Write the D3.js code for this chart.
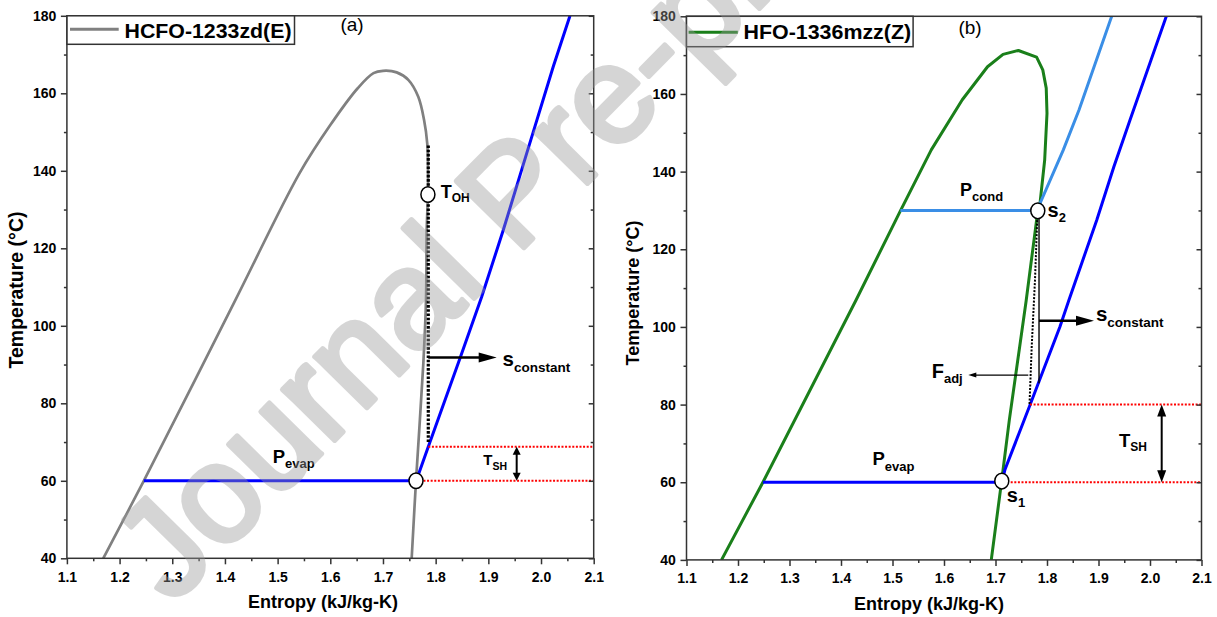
<!DOCTYPE html>
<html>
<head>
<meta charset="utf-8">
<script src="https://cdn.jsdelivr.net/npm/d3@7"></script>
<style>
  html, body { margin: 0; padding: 0; background: #fff; }
  svg { display: block; font-family: "Liberation Sans", Arial, Helvetica, sans-serif; }
</style>
</head>
<body>
<svg id="chart" width="1217" height="617"></svg>
<script>
// ---------- axis ticks ----------
const entropyTicks = [1.1, 1.2, 1.3, 1.4, 1.5, 1.6, 1.7, 1.8, 1.9, 2.0, 2.1];
const entropyMinor = [1.15, 1.25, 1.35, 1.45, 1.55, 1.65, 1.75, 1.85, 1.95, 2.05];
const tempTicks = [40, 60, 80, 100, 120, 140, 160, 180];
const tempMinor = [50, 70, 90, 110, 130, 150, 170];

// ---------- (a) HCFO-1233zd(E): [entropy kJ/kg-K, temperature °C] ----------
const hcfoLiquid = [[1.169, 40], [1.246, 60], [1.420, 106.7], [1.5417, 139.4],
  [1.600, 151.8], [1.652, 161.3], [1.682, 165.2], [1.700, 165.8]];
const hcfoVapour = [[1.700, 165.8], [1.726, 165.4], [1.7485, 163.4], [1.767, 159.1], [1.778, 153.1],
  [1.784, 147.1], [1.7855, 140], [1.7853, 133.9], [1.783, 124.7], [1.7817, 106.7], [1.7766, 90.3],
  [1.7627, 60], [1.7545, 40]];
const hcfoEvapIsobar = [[1.246, 60], [1.7627, 60], [1.767, 61.5], [1.786, 68.8], [1.8462, 91.6],
  [1.8874, 107.5], [1.9284, 124.7], [1.9728, 144.5], [2.0233, 166.9], [2.055, 180]];
const hcfoIsentrope = [[1.786, 70], [1.786, 147]];
const hcfoSuperheatLines = [[[1.786, 68.8], [2.1, 68.8]], [[1.770, 60], [2.1, 60]]];
const hcfoStates = [[1.7627, 60], [1.7853, 133.9]];
const hcfoSconstArrow = [[1.786, 91.8], [1.9159, 91.8]];
const hcfoTshArrow = [[1.9538, 60], [1.9538, 68.8]];

// ---------- (b) HFO-1336mzz(Z) ----------
const hfoLiquid = [[1.168, 40], [1.2484, 60], [1.4288, 106.8], [1.5153, 129.9], [1.5753, 145.6],
  [1.6355, 158.5], [1.6845, 167.0], [1.7146, 170.2], [1.7445, 171.2]];
const hfoVapour = [[1.7445, 171.2], [1.7798, 169.5], [1.7918, 166.2], [1.7985, 161.5], [1.800, 155],
  [1.7955, 143], [1.7864, 131.8], [1.7821, 129.9], [1.7596, 106.8], [1.7268, 76], [1.7122, 60.6],
  [1.6918, 40]];
const hfoCondIsobar = [[1.5153, 130], [1.7821, 130], [1.7864, 131.8], [1.8317, 145.6], [1.8625, 156],
  [1.9256, 180]];
const hfoEvapIsobar = [[1.2484, 60], [1.7122, 60], [1.7183, 63.2], [1.767, 79.9], [1.8253, 100.1],
  [1.8423, 106.8], [1.8965, 127.5], [1.930, 141.3], [1.9612, 153.3], [2.0317, 180]];
const hfoIsentrope = [[1.7845, 128.4], [1.7845, 85.5]];
const hfoAdjusted = [[1.7812, 128.4], [1.7767, 112.1], [1.7703, 94.9], [1.766, 80]];
const hfoSuperheatLines = [[[1.767, 80], [2.1, 80]], [[1.7295, 60], [2.1, 60]]];
const hfoStates = [[1.7122, 60.3], [1.7821, 129.9]];
const hfoSconstArrow = [[1.7845, 101.6], [1.8913, 101.6]];
const hfoFadjArrow = [[1.7637, 87.6], [1.6472, 87.6]];
const hfoTshArrow = [[2.0227, 60], [2.0227, 80]];

// ---------- colours ----------
const C = {
  gray: "#808080", green: "#1a7f1a", blue: "#0000ff", lightBlue: "#3a8ee6",
  red: "#ff0000", axis: "#333333", black: "#000000"
};

const svg = d3.select("#chart");
const font = '"Liberation Sans", Arial, Helvetica, sans-serif';

function drawArrow(g, p0, p1, o) {
  const dx = p1[0] - p0[0], dy = p1[1] - p0[1], L = Math.hypot(dx, dy);
  const ux = dx / L, uy = dy / L, nx = -uy, ny = ux;
  const hl = o.headLen, hw = o.headW / 2;
  const a = o.double ? [p0[0] + ux * hl * 0.8, p0[1] + uy * hl * 0.8] : p0;
  const b = [p1[0] - ux * hl * 0.8, p1[1] - uy * hl * 0.8];
  g.append("line").attr("x1", a[0]).attr("y1", a[1]).attr("x2", b[0]).attr("y2", b[1])
    .attr("stroke", o.color).attr("stroke-width", o.width);
  const head = (tip, d) => {
    const bx = tip[0] - d[0] * hl, by = tip[1] - d[1] * hl;
    return [[tip[0], tip[1]], [bx + nx * hw, by + ny * hw], [bx - nx * hw, by - ny * hw]];
  };
  g.append("polygon").attr("points", head(p1, [ux, uy]).join(" ")).attr("fill", o.color);
  if (o.double) g.append("polygon").attr("points", head(p0, [-ux, -uy]).join(" ")).attr("fill", o.color);
}

function subLabel(g, px, py, main, sub, fMain, fSub, dy) {
  const t = g.append("text").attr("x", px).attr("y", py)
    .attr("font-weight", "bold").attr("font-size", fMain).attr("fill", C.black);
  t.append("tspan").text(main);
  t.append("tspan").attr("font-size", fSub).attr("dy", dy).text(sub);
}

function panel(cfg) {
  const x = d3.scaleLinear().domain([1.1, 2.1]).range(cfg.xr);
  const y = d3.scaleLinear().domain([40, 180]).range(cfg.yr);
  const g = svg.append("g");
  const line = d3.line().x(d => x(d[0])).y(d => y(d[1]));

  const clipId = "clip-" + cfg.id;
  svg.append("clipPath").attr("id", clipId).append("rect")
    .attr("x", cfg.xr[0]).attr("y", cfg.yr[1])
    .attr("width", cfg.xr[1] - cfg.xr[0]).attr("height", cfg.yr[0] - cfg.yr[1]);
  const plot = g.append("g").attr("clip-path", `url(#${clipId})`);
  cfg.draw(plot, x, y, line);

  // axes
  const styleAxis = (sel) => {
    sel.select(".domain").remove();
    sel.selectAll(".tick line").attr("stroke", C.axis).attr("stroke-width", 1.5);
    sel.selectAll(".tick text").attr("font-family", font).attr("font-weight", "bold")
      .attr("font-size", 14).attr("fill", C.black);
  };
  g.append("g").attr("transform", `translate(0,${cfg.yr[0]})`)
    .call(d3.axisBottom(x).tickValues(entropyTicks).tickSize(6).tickPadding(7.5).tickFormat(d3.format(".1f")))
    .call(styleAxis);
  g.append("g").attr("transform", `translate(0,${cfg.yr[0]})`)
    .call(d3.axisBottom(x).tickValues(entropyMinor).tickSize(3).tickFormat(""))
    .call(styleAxis);
  g.append("g").attr("transform", `translate(${cfg.xr[0]},0)`)
    .call(d3.axisLeft(y).tickValues(tempTicks).tickSize(6).tickPadding(4.6).tickFormat(d3.format("d")))
    .call(styleAxis);
  g.append("g").attr("transform", `translate(${cfg.xr[0]},0)`)
    .call(d3.axisLeft(y).tickValues(tempMinor).tickSize(3).tickFormat(""))
    .call(styleAxis);
  // mirrored ticks on the right edge, pointing inward
  g.append("g").attr("transform", `translate(${cfg.xr[1]},0)`)
    .call(d3.axisLeft(y).tickValues(tempTicks).tickSize(5).tickFormat(""))
    .call(styleAxis);
  g.append("g").attr("transform", `translate(${cfg.xr[1]},0)`)
    .call(d3.axisLeft(y).tickValues(tempMinor).tickSize(3).tickFormat(""))
    .call(styleAxis);

  g.append("rect").attr("x", cfg.xr[0]).attr("y", cfg.yr[1])
    .attr("width", cfg.xr[1] - cfg.xr[0]).attr("height", cfg.yr[0] - cfg.yr[1])
    .attr("fill", "none").attr("stroke", C.axis).attr("stroke-width", 1.5);

  // axis titles
  g.append("text").attr("x", cfg.xTitle[0]).attr("y", cfg.xTitle[1])
    .attr("text-anchor", "middle").attr("font-weight", "bold").attr("font-size", 18)
    .text("Entropy (kJ/kg-K)");
  g.append("text").attr("transform", `translate(${cfg.yTitle[0]},${cfg.yTitle[1]}) rotate(-90)`)
    .attr("text-anchor", "middle").attr("font-weight", "bold").attr("font-size", cfg.yTitleSize)
    .text("Temperature (\u00B0C)");

  // legend
  const L = cfg.legend;
  g.append("rect").attr("x", L.box[0]).attr("y", L.box[1]).attr("width", L.box[2]).attr("height", L.box[3])
    .attr("fill", "#fff").attr("stroke", C.axis).attr("stroke-width", 1.5);
  g.append("line").attr("x1", L.line[0]).attr("x2", L.line[1]).attr("y1", L.line[2]).attr("y2", L.line[2])
    .attr("stroke", L.color).attr("stroke-width", 3);
  g.append("text").attr("x", L.text[0]).attr("y", L.text[1]).attr("font-weight", "bold")
    .attr("font-size", 20).attr("textLength", L.text[2]).attr("lengthAdjust", "spacingAndGlyphs")
    .text(L.label);
  g.append("text").attr("x", cfg.tag[0]).attr("y", cfg.tag[1]).attr("font-size", 19).text(cfg.tag[2]);

  cfg.annotate(g, x, y);
}

function statePoint(g, x, y, d) {
  g.append("ellipse").attr("cx", x(d[0])).attr("cy", y(d[1])).attr("rx", 7).attr("ry", 7.8)
    .attr("fill", "#fff").attr("stroke", C.black).attr("stroke-width", 1.5);
}

// ---------- panel (a) ----------
panel({
  id: "a", xr: [66.9, 593.7], yr: [558.3, 15.8],
  xTitle: [323, 608.3], yTitle: [23, 290], yTitleSize: 19.5,
  legend: { box: [67, 15.8, 227.5, 28.5], line: [70, 118.7, 29.3], text: [124.5, 37.5, 167],
            color: C.gray, label: "HCFO-1233zd(E)" },
  tag: [340.4, 31, "(a)"],
  draw(p, x, y, line) {
    const dome = d3.line().x(d => x(d[0])).y(d => y(d[1])).curve(d3.curveCatmullRom.alpha(0.5));
    p.append("path").attr("d", dome(hcfoLiquid.concat(hcfoVapour.slice(1)))).attr("fill", "none")
      .attr("stroke", C.gray).attr("stroke-width", 2.7).attr("stroke-linejoin", "round");
    p.append("path").attr("d", line(hcfoEvapIsobar)).attr("fill", "none")
      .attr("stroke", C.blue).attr("stroke-width", 3);
    p.append("path").attr("d", line(hcfoIsentrope)).attr("fill", "none")
      .attr("stroke", C.black).attr("stroke-width", 3.2).attr("stroke-dasharray", "2.6,1.6");
    hcfoSuperheatLines.forEach(l => p.append("path").attr("d", line(l)).attr("fill", "none")
      .attr("stroke", C.red).attr("stroke-width", 2).attr("stroke-dasharray", "2,1.6"));
  },
  annotate(g, x, y) {
    hcfoStates.forEach(d => statePoint(g, x, y, d));
    drawArrow(g, [x(hcfoSconstArrow[0][0]), y(hcfoSconstArrow[0][1])],
      [x(hcfoSconstArrow[1][0]), y(hcfoSconstArrow[1][1])],
      { color: C.black, width: 2.5, headLen: 18, headW: 10 });
    drawArrow(g, [x(hcfoTshArrow[0][0]), y(hcfoTshArrow[0][1])],
      [x(hcfoTshArrow[1][0]), y(hcfoTshArrow[1][1])],
      { color: C.black, width: 2, headLen: 8, headW: 8, double: true });
    subLabel(g, 440.7, 198.3, "T", "OH", 18, 12, 3.5);
    subLabel(g, 272.7, 463.3, "P", "evap", 18.5, 13, 5);
    subLabel(g, 502.5, 365.7, "s", "constant", 20.5, 13.5, 6);
    subLabel(g, 483.3, 465, "T", "SH", 15, 10.5, 5);
  }
});

// ---------- panel (b) ----------
panel({
  id: "b", xr: [686.5, 1201.5], yr: [559.9, 16.3],
  xTitle: [929, 610], yTitle: [638.5, 293], yTitleSize: 18,
  legend: { box: [686.5, 16.3, 226.6, 30.4], line: [688.6, 737.8, 32.3], text: [743.6, 39.3, 167.5],
            color: C.green, label: "HFO-1336mzz(Z)" },
  tag: [958.4, 34.3, "(b)"],
  draw(p, x, y, line) {
    p.append("path").attr("d", line(hfoLiquid.concat(hfoVapour.slice(1)))).attr("fill", "none")
      .attr("stroke", C.green).attr("stroke-width", 3).attr("stroke-linejoin", "round");
    p.append("path").attr("d", line(hfoCondIsobar)).attr("fill", "none")
      .attr("stroke", C.lightBlue).attr("stroke-width", 3);
    p.append("path").attr("d", line(hfoEvapIsobar)).attr("fill", "none")
      .attr("stroke", C.blue).attr("stroke-width", 3);
    p.append("path").attr("d", line(hfoIsentrope)).attr("fill", "none")
      .attr("stroke", C.black).attr("stroke-width", 1.4);
    p.append("path").attr("d", line(hfoAdjusted)).attr("fill", "none")
      .attr("stroke", C.black).attr("stroke-width", 2).attr("stroke-dasharray", "2,1.5");
    hfoSuperheatLines.forEach(l => p.append("path").attr("d", line(l)).attr("fill", "none")
      .attr("stroke", C.red).attr("stroke-width", 2).attr("stroke-dasharray", "2,1.6"));
  },
  annotate(g, x, y) {
    hfoStates.forEach(d => statePoint(g, x, y, d));
    drawArrow(g, [x(hfoSconstArrow[0][0]), y(hfoSconstArrow[0][1])],
      [x(hfoSconstArrow[1][0]), y(hfoSconstArrow[1][1])],
      { color: C.black, width: 2.5, headLen: 18, headW: 10 });
    drawArrow(g, [x(hfoFadjArrow[0][0]), y(hfoFadjArrow[0][1])],
      [x(hfoFadjArrow[1][0]), y(hfoFadjArrow[1][1])],
      { color: C.black, width: 1.2, headLen: 8, headW: 5 });
    drawArrow(g, [x(hfoTshArrow[0][0]), y(hfoTshArrow[0][1])],
      [x(hfoTshArrow[1][0]), y(hfoTshArrow[1][1])],
      { color: C.black, width: 2, headLen: 12, headW: 9, double: true });
    subLabel(g, 960, 196, "P", "cond", 18, 13, 5);
    subLabel(g, 1047.5, 216.7, "s", "2", 20, 13, 5);
    subLabel(g, 1095.9, 321, "s", "constant", 20.5, 13.5, 5.5);
    subLabel(g, 931.7, 378, "F", "adj", 20, 13, 4.5);
    subLabel(g, 1119, 446.7, "T", "SH", 18.5, 12, 4.5);
    subLabel(g, 872.5, 465, "P", "evap", 18.5, 13, 5.5);
    subLabel(g, 1006.8, 501.7, "s", "1", 20, 13, 5);
  }
});

// ---------- watermark ----------
const mark = svg.append("g").attr("opacity", 0.4);
mark.append("text").attr("transform", "translate(172,606) rotate(-45.5)")
  .attr("font-size", 138).attr("fill", "#999").attr("stroke", "#999").attr("stroke-width", 5)
  .attr("stroke-linejoin", "round").text("Journal Pre-proof");
</script>
</body>
</html>
